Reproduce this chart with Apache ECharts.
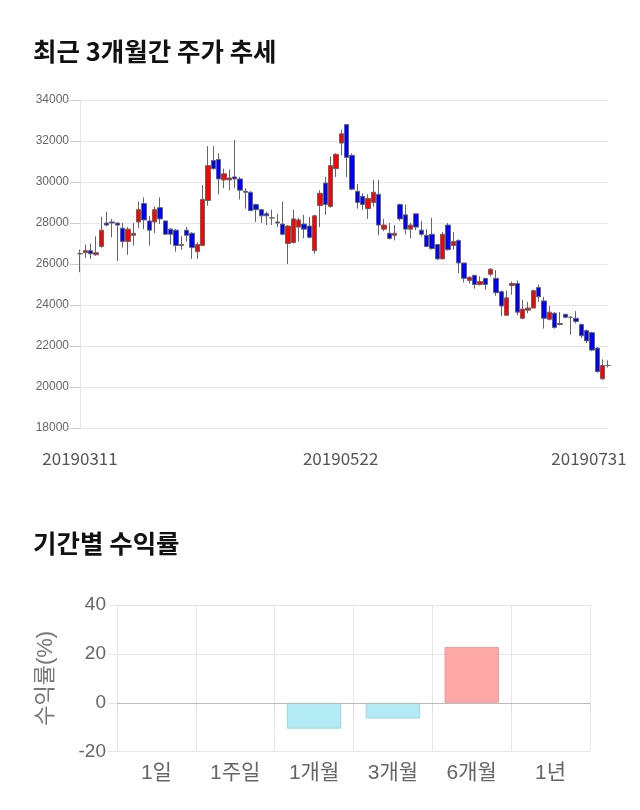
<!DOCTYPE html>
<html><head><meta charset="utf-8">
<script src="https://cdn.jsdelivr.net/npm/echarts@6/dist/echarts.min.js"></script>
<style>html,body{margin:0;padding:0;background:#fff}#c{width:640px;height:810px}</style>
</head><body><div id="c"></div>
<script>
const dates = [
'20190311','20190312','20190313','20190314','20190315','20190318','20190319','20190320','20190321','20190322',
'20190325','20190326','20190327','20190328','20190329','20190401','20190402','20190403','20190404','20190405',
'20190408','20190409','20190410','20190411','20190412','20190415','20190416','20190417','20190418','20190419',
'20190422','20190423','20190424','20190425','20190426','20190429','20190430','20190502','20190503','20190507',
'20190508','20190509','20190510','20190513','20190514','20190515','20190516','20190517','20190520','20190521',
'20190522','20190523','20190524','20190527','20190528','20190529','20190530','20190531','20190603','20190604',
'20190605','20190607','20190610','20190611','20190612','20190613','20190614','20190617','20190618','20190619',
'20190620','20190621','20190624','20190625','20190626','20190627','20190628','20190701','20190702','20190703',
'20190704','20190705','20190708','20190709','20190710','20190711','20190712','20190715','20190716','20190717',
'20190718','20190719','20190722','20190723','20190724','20190725','20190726','20190729','20190730','20190731'];
// [open, close, low, high]
const ohlc = [
[26500,26500,25600,26700],[26550,26650,26300,26950],[26650,26500,26250,27000],[26450,26550,26400,27350],[26850,27650,26800,28300],
[28000,27900,27850,28550],[28050,28000,27300,28200],[28000,27900,26150,28000],[27750,27100,26800,28000],[27100,27700,26450,27800],
[27400,27500,26900,28000],[28050,28650,27750,29050],[28950,28150,27700,29250],[28100,27650,26900,28350],[28050,28650,27500,28800],
[28750,28200,27950,29250],[28100,27450,27450,28100],[27700,27450,26950,27750],[27650,26900,26600,27700],[26900,26950,26700,27350],
[27650,27400,27100,27800],[27500,26800,26250,27550],[26600,26950,26250,27050],[26900,29150,26900,29850],[29100,30800,28850,31750],
[31050,30650,30600,31750],[31100,30150,29400,31400],[30100,30400,29700,30650],[30100,30200,29600,30600],[30250,30150,29700,32050],
[30150,29600,29150,30250],[29550,29500,28700,29700],[29500,28600,28600,29550],[28900,28650,28050,28950],[28650,28350,28000,28700],
[28450,28350,27900,28550],[28250,28250,27900,28650],[28050,28000,27800,28450],[27950,27450,27400,29050],[27000,27850,26000,27900],
[27050,28200,27000,28650],[27800,28150,27100,28250],[27950,27700,27250,28400],[27850,27300,27250,28300],[26650,28350,26500,28400],
[28850,29450,27800,29600],[29950,28900,28400,30250],[28800,30800,28750,31250],[30650,31350,30250,31400],[31900,32350,31300,32550],
[32800,31200,30250,32800],[31300,29650,29600,31400],[29550,29000,28700,29900],[29300,28900,28650,29450],[28700,29200,28200,29400],
[29000,29500,28800,30100],[29400,27900,27400,30100],[27700,27900,27600,28200],[27500,27250,27200,28000],[27400,27500,27150,27900],
[28900,28200,28100,28950],[28400,27700,27450,28900],[27700,27900,27250,28000],[28450,27800,27650,28450],[27650,27450,27350,28100],
[27400,26850,26850,27700],[27450,26750,26700,28250],[26950,26250,26200,26950],[26250,27450,26250,27550],[27900,26700,26650,28000],
[26900,27100,26700,27550],[27150,26050,25550,27200],[26050,25300,25100,26050],[25200,25350,25050,25400],[25450,25000,24800,25450],
[25000,25150,24950,25400],[25300,25000,24750,25300],[25500,25750,25400,25800],[25300,24600,24450,25700],[24650,23950,23450,24700],
[23500,24350,23500,24700],[24950,25050,24500,25150],[25050,23650,23500,25200],[23350,23800,23300,24250],[23750,23850,23600,24150],
[23850,24700,23850,24750],[24850,24400,24150,25000],[24200,23350,22850,24400],[23300,23650,23250,23950],[23600,22900,22850,23650],
[23050,23100,23000,23650],[23550,23400,23350,23550],[23400,23400,22550,23450],[23350,23200,23100,23700],[23050,22500,22400,23100],
[22750,22250,22150,22800],[22650,21800,21750,22700],[21900,20750,20700,21950],[20400,21050,20350,21350],[21050,21050,20950,21300]];
const dateLabelIdx = [0, 50, 99];
const priceMin = 18000, priceMax = 34000, priceStep = 2000;

const periods = ['1일','1주일','1개월','3개월','6개월','1년'];
const returns = [null, null, -10.6, -6.4, 22.8, null];
const retMin = -20, retMax = 40, retStep = 20;

const chart = echarts.init(document.getElementById('c'), null, {renderer:'canvas'});
const CJK = '"Noto Sans CJK KR", "Noto Sans", sans-serif';
const LAT = '"Liberation Sans", "Noto Sans CJK KR", sans-serif';

chart.setOption({
  animation: false,
  backgroundColor: '#fff',
  title: [
    {text:'최근 3개월간 주가 추세', left: 28, top: 34, textStyle:{fontFamily:CJK, fontSize:25.5, fontWeight:'bold', color:'#111'}},
    {text:'기간별 수익률', left: 28, top: 526, textStyle:{fontFamily:CJK, fontSize:25.5, fontWeight:'bold', color:'#111'}}
  ],
  grid: [
    {left: 80, right: 32, top: 100, height: 328},
    {left: 117, right: 50, top: 605, height: 146.7}
  ],
  xAxis: [
    {type:'category', gridIndex:0, data: dates, boundaryGap:false,
     axisLine:{show:false}, axisTick:{show:false}, splitLine:{show:false},
     axisLabel:{interval:(i)=>dateLabelIdx.indexOf(i)>=0, margin:22, hideOverlap:false,
       formatter:(v, i)=> i===99 ? '{r|'+v+'}' : (i===50 ? '{m|'+v+'}' : '{l|'+v+'}'),
       rich:{
         l:{fontFamily:CJK, fontSize:17, color:'#555'},
         m:{fontFamily:CJK, fontSize:17, color:'#555', padding:[0,12,0,0]},
         r:{fontFamily:CJK, fontSize:17, color:'#555', padding:[0,38,0,0]}
       }}},
    {type:'category', gridIndex:1, data: periods, boundaryGap:true,
     axisLine:{show:true, lineStyle:{color:'#ccc'}},
     axisTick:{show:true, length:10, lineStyle:{color:'#e0e0e0'}},
     splitLine:{show:true, lineStyle:{color:'#e8e8e8'}},
     axisLabel:{fontFamily:LAT, fontSize:21, color:'#666', margin:11}}
  ],
  yAxis: [
    {type:'value', gridIndex:0, min:priceMin, max:priceMax, interval:priceStep,
     axisLine:{show:true, lineStyle:{color:'#e6e6e6'}},
     axisTick:{show:true, length:10, lineStyle:{color:'#ccc'}},
     splitLine:{show:true, lineStyle:{color:'#e6e6e6'}},
     axisLabel:{fontFamily:LAT, fontSize:12, color:'#666', margin:11, formatter:(v)=>String(v)}},
    {type:'value', gridIndex:1, min:retMin, max:retMax, interval:retStep,
     name:'수익률(%)', nameLocation:'middle', nameRotate:90, nameGap:60,
     nameTextStyle:{fontFamily:LAT, fontSize:22, color:'#777'},
     axisLine:{show:false},
     axisTick:{show:true, length:9, lineStyle:{color:'#e6e6e6'}},
     splitLine:{show:true, lineStyle:{color:'#e6e6e6'}},
     axisLabel:{fontFamily:LAT, fontSize:19, color:'#666', margin:11, formatter:(v)=>String(v)}}
  ],
  series: [
    {type:'candlestick', xAxisIndex:0, yAxisIndex:0, data: ohlc, barWidth:5,
     itemStyle:{color:'#ff0000', color0:'#0000ff', borderColor:'#666', borderColor0:'#666', borderWidth:1}},
    {type:'bar', xAxisIndex:1, yAxisIndex:1, barWidth:'69%',
     data: returns.map(v => v === null ? null : {value:v, itemStyle: v >= 0
        ? {color:'#ffa6a6', borderColor:'#f09a9a', borderWidth:1}
        : {color:'#b2ebf3', borderColor:'#9fd6de', borderWidth:1}}),
     markLine:{silent:true, symbol:'none', label:{show:false},
       lineStyle:{color:'#bbb', type:'solid', width:1}, data:[{yAxis:0}]}}
  ]
});
</script>
</body></html>
